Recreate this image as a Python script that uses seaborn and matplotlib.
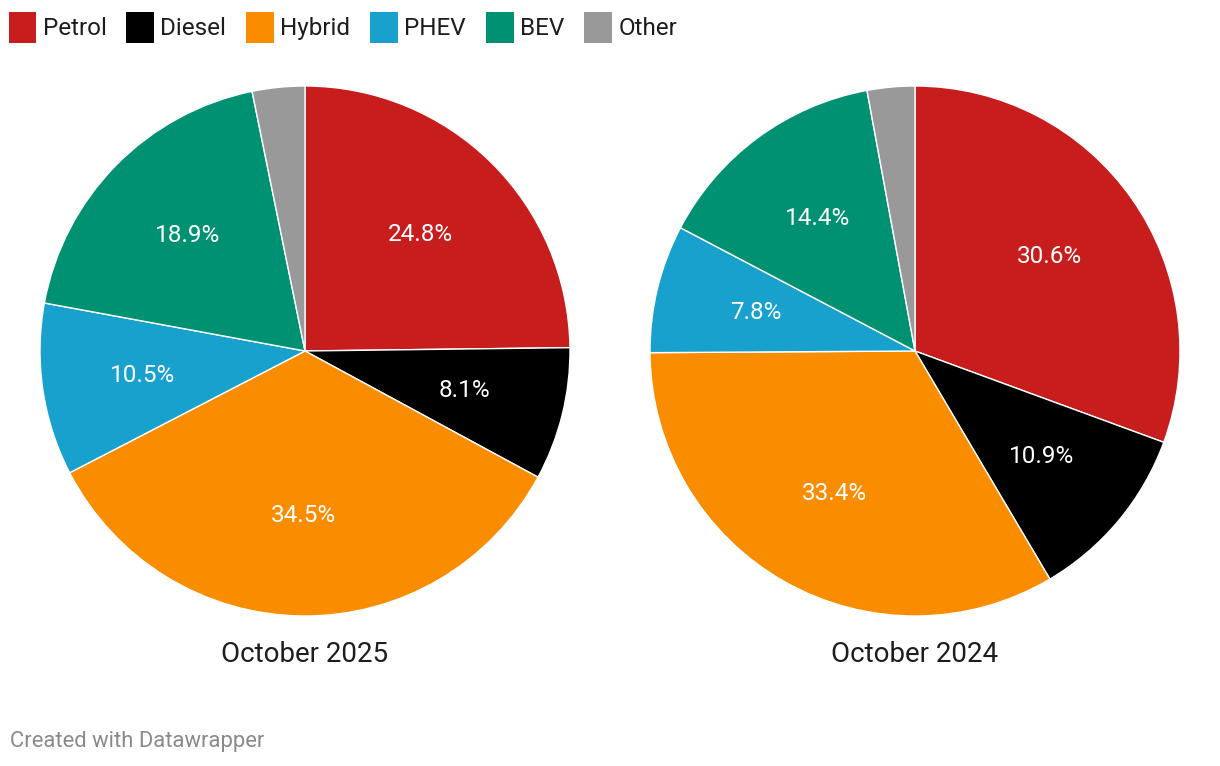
import matplotlib
matplotlib.use("Agg")
import matplotlib.pyplot as plt
from matplotlib.patches import Patch
import seaborn as sns

# data
fuel_types = ["Petrol", "Diesel", "Hybrid", "PHEV", "BEV", "Other"]
share_2025 = [24.8, 8.1, 34.5, 10.5, 18.9, 3.2]
share_2024 = [30.6, 10.9, 33.4, 7.8, 14.4, 2.9]
titles = ["October 2025", "October 2024"]
colors = ["#c71e1d", "#000000", "#fa8c00", "#18a1cd", "#009173", "#999999"]

sns.set_style("white")
plt.rcParams["font.family"] = ["Roboto", "DejaVu Sans"]
palette = sns.color_palette(colors)

fig = plt.figure(figsize=(12.2, 7.66), dpi=100)
W, H = 1220, 766
R = 265

def pct_label(p):
    return f"{p:.1f}%" if p > 5 else ""

for cx, vals, title in [(305, share_2025, titles[0]), (915, share_2024, titles[1])]:
    ax = fig.add_axes([(cx - R) / W, (H - 351 - R) / H, 2 * R / W, 2 * R / H])
    wedges, texts, autotexts = ax.pie(
        vals, colors=palette, startangle=90, counterclock=False, radius=1,
        autopct=pct_label, pctdistance=0.62,
        wedgeprops=dict(edgecolor="white", linewidth=1),
        textprops=dict(color="white", fontsize=17.5),
    )
    ax.set_xlim(-1, 1)
    ax.set_ylim(-1, 1)
    ax.set_aspect("equal")
    ax.axis("off")
    fig.text(cx / W, 1 - 655 / H, title, ha="center", va="center",
             fontsize=20, color="#1d1d1d")

handles = [Patch(facecolor=c, edgecolor="none", label=l) for c, l in zip(palette, fuel_types)]
fig.legend(handles=handles, loc="upper left", bbox_to_anchor=(0.0, 1 - 3 / H), ncol=6,
           frameon=False, fontsize=17.5, handlelength=1.15, handleheight=1.6,
           handletextpad=0.25, columnspacing=0.82, borderaxespad=0.1, borderpad=0.25,
           labelcolor="#1d1d1d")

fig.text(10 / W, 1 - 742 / H, "Created with Datawrapper", ha="left", va="center",
         fontsize=15.8, color="#8a8a8a")

fig.savefig("out.png", dpi=100)
